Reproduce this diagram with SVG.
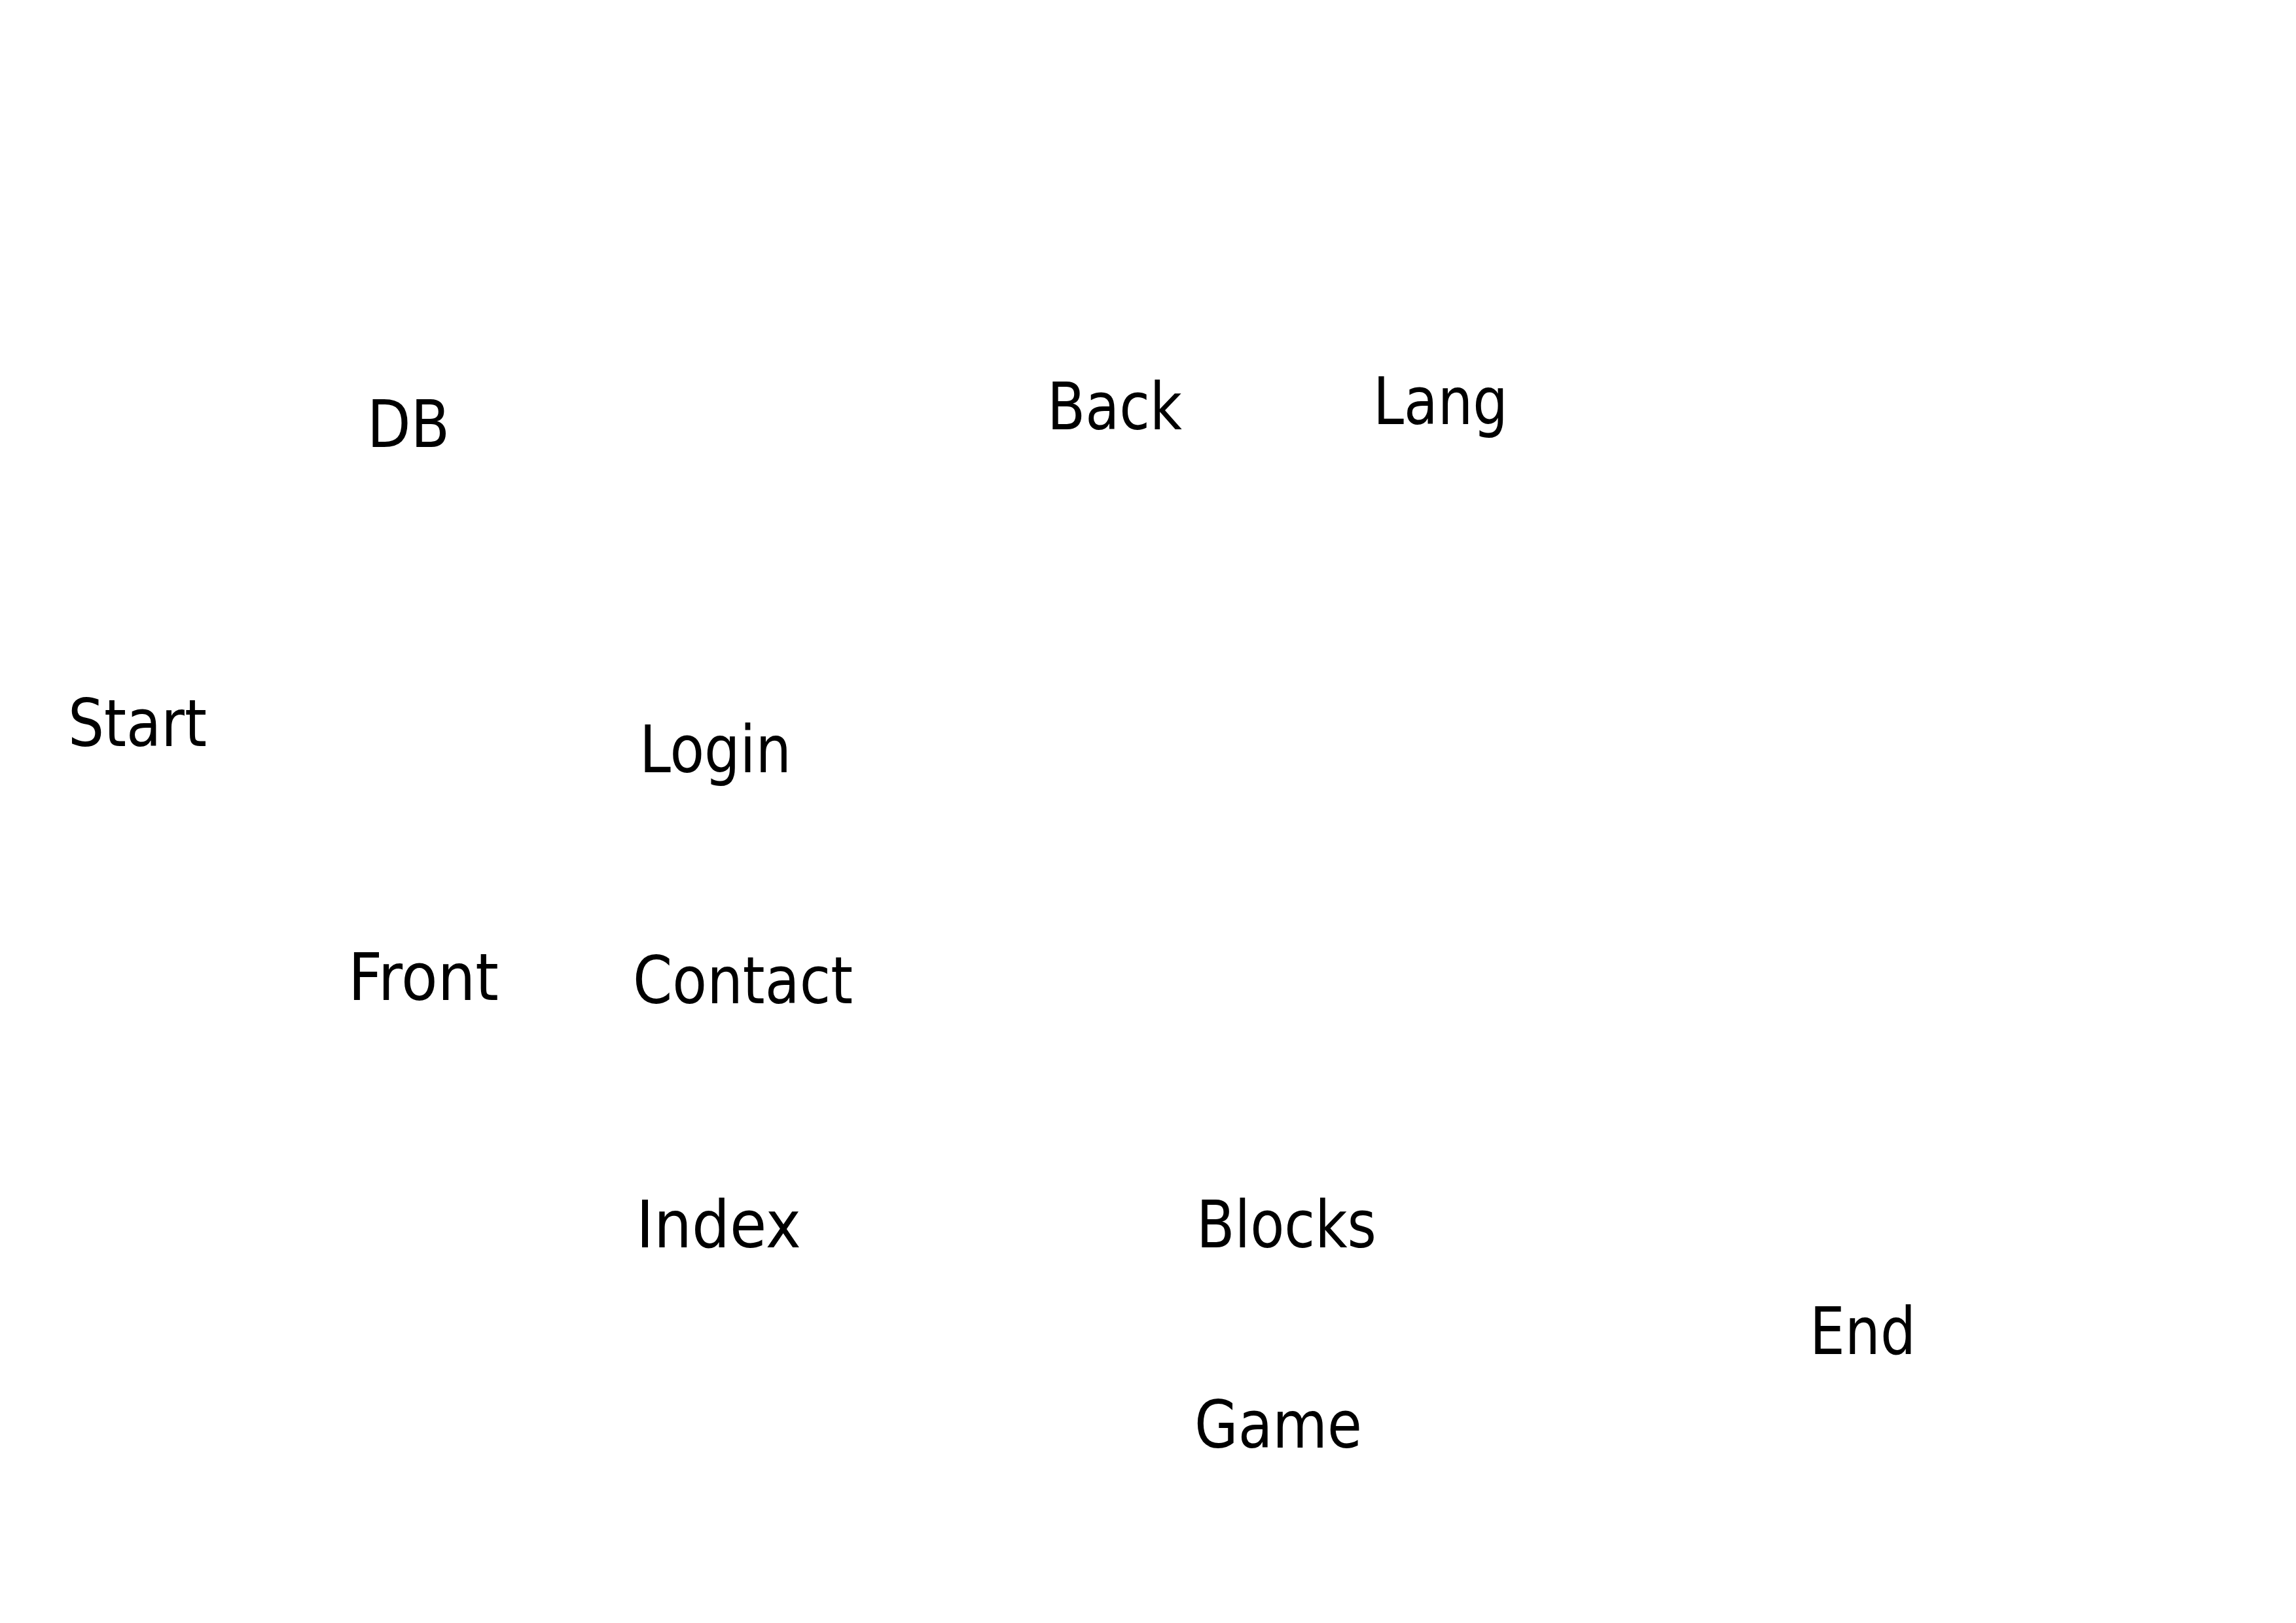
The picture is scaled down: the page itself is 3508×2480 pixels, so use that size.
<svg xmlns="http://www.w3.org/2000/svg" width="3508" height="2480" viewBox="0 0 3508 2480">
  <style>
    .label { font-family: "DejaVu Sans", "Liberation Sans", sans-serif; font-size: 100px; fill: #000000; }
  </style>
  <rect x="0" y="0" width="3508" height="2480" fill="#ffffff"/>
  <g id="connectors"></g>
  <g id="node-db"><text class="label" x="561" y="683" textLength="126" lengthAdjust="spacingAndGlyphs">DB</text></g>
  <g id="node-back"><text class="label" x="1600" y="656" textLength="206" lengthAdjust="spacingAndGlyphs">Back</text></g>
  <g id="node-lang"><text class="label" x="2098" y="648" textLength="206" lengthAdjust="spacingAndGlyphs">Lang</text></g>
  <g id="node-start"><text class="label" x="104" y="1140" textLength="212" lengthAdjust="spacingAndGlyphs">Start</text></g>
  <g id="node-login"><text class="label" x="977" y="1180" textLength="232" lengthAdjust="spacingAndGlyphs">Login</text></g>
  <g id="node-front"><text class="label" x="532" y="1528" textLength="230" lengthAdjust="spacingAndGlyphs">Front</text></g>
  <g id="node-contact"><text class="label" x="967" y="1533" textLength="336" lengthAdjust="spacingAndGlyphs">Contact</text></g>
  <g id="node-index"><text class="label" x="972" y="1906" textLength="252" lengthAdjust="spacingAndGlyphs">Index</text></g>
  <g id="node-blocks"><text class="label" x="1828" y="1906" textLength="275" lengthAdjust="spacingAndGlyphs">Blocks</text></g>
  <g id="node-end"><text class="label" x="2765" y="2069" textLength="162" lengthAdjust="spacingAndGlyphs">End</text></g>
  <g id="node-game"><text class="label" x="1825" y="2212" textLength="256" lengthAdjust="spacingAndGlyphs">Game</text></g>
</svg>
